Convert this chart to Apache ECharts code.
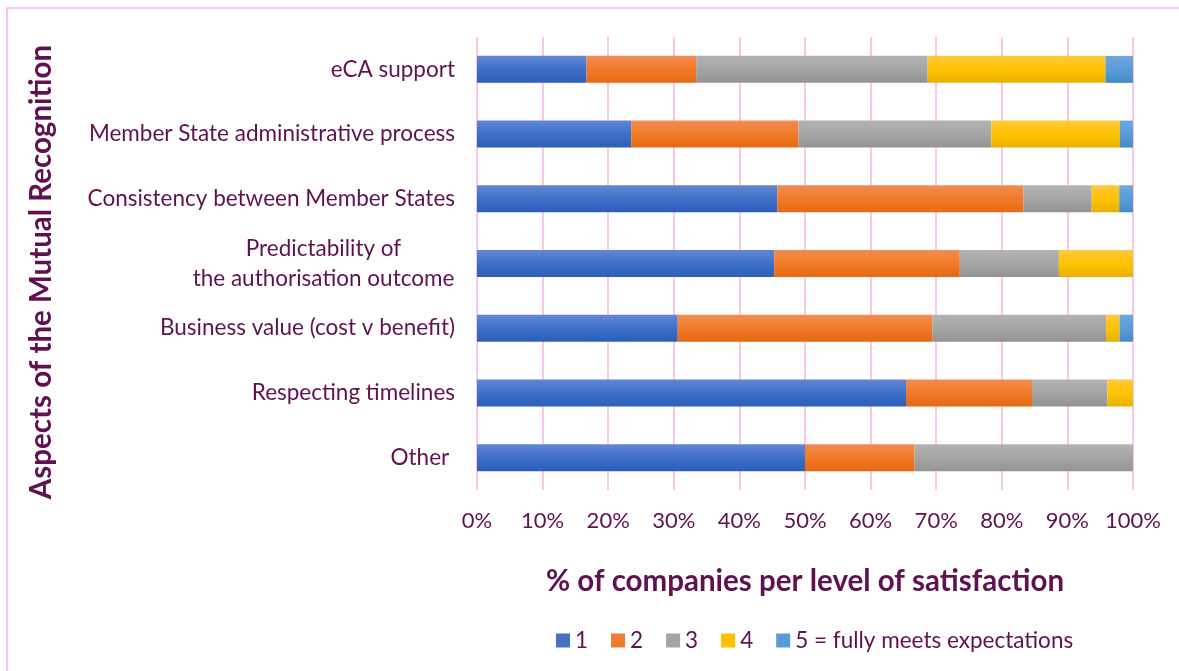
<!DOCTYPE html>
<html>
<head>
<meta charset="utf-8">
<script src="https://cdn.jsdelivr.net/npm/echarts@6/dist/echarts.min.js"></script>
<style>html,body{margin:0;padding:0;background:#fff;}#c{width:1179px;height:671px;}</style>
</head>
<body>
<div id="c"></div>
<script>
const categories = [
  'eCA support',
  'Member State administrative process',
  'Consistency between Member States',
  'Predictability of\nthe authorisation outcome',
  'Business value (cost v benefit)',
  'Respecting timelines',
  'Other '
];
const seriesNames = ['1', '2', '3', '4', '5 = fully meets expectations'];
const level1 = [16.7, 23.5, 45.8, 45.3, 30.6, 65.4, 50.0];
const level2 = [16.7, 25.5, 37.5, 28.3, 38.8, 19.2, 16.7];
const level3 = [35.3, 29.4, 10.4, 15.1, 26.5, 11.5, 33.3];
const level4 = [27.1, 19.6, 4.2, 11.3, 2.05, 3.9, 0];
const level5 = [4.2, 2.0, 2.1, 0, 2.05, 0, 0];
const xTicks = [0, 10, 20, 30, 40, 50, 60, 70, 80, 90, 100];

const textColor = '#5f1150';
const fontFam = 'Lato, "Open Sans", sans-serif';
function grad(top, bottom) {
  return new echarts.graphic.LinearGradient(0, 0, 0, 1, [
    {offset: 0, color: top}, {offset: 0.5, color: bottom[0]}, {offset: 1, color: bottom[1]}
  ]);
}
const colorsSolid = ['#4472C4', '#ED7D31', '#A5A5A5', '#FFC000', '#5B9BD5'];
const fills = [
  grad('#6388d4', ['#3e6fc8', '#2d5fb9']),
  grad('#f08d55', ['#f27a27', '#e56815']),
  grad('#b3b3b3', ['#a5a5a5', '#939393']),
  grad('#ffc83e', ['#ffc300', '#e6b100']),
  grad('#6ea8de', ['#5a9bd8', '#438bcb'])
];
const data = [level1, level2, level3, level4, level5];

const chart = echarts.init(document.getElementById('c'), null, {renderer: 'canvas'});
chart.setOption({
  animation: false,
  textStyle: {fontFamily: fontFam},
  grid: {left: 477, right: 46, top: 37, bottom: 181, containLabel: false},
  graphic: [
    {type: 'rect', shape: {x: 7, y: 8, width: 1200, height: 700}, style: {fill: 'none', stroke: '#f9c6ec', lineWidth: 2}, silent: true},
    {type: 'text', x: 41, y: 272, rotation: Math.PI / 2,
     style: {text: 'Aspects of the Mutual Recognition', align: 'center', verticalAlign: 'middle',
             fill: textColor, font: 'bold 29.5px ' + fontFam}}
  ],
  legend: {
    data: seriesNames.map((n, i) => ({name: n, icon: 'rect', itemStyle: {color: colorsSolid[i]}})),
    left: 551, top: 624, itemWidth: 14, itemHeight: 14, itemGap: 23,
    textStyle: {color: textColor, fontSize: 22.5, fontFamily: fontFam}
  },
  xAxis: {
    type: 'value', min: 0, max: 100, interval: 10,
    axisLabel: {formatter: v => xTicks.includes(v) ? v + '%' : '', color: textColor, fontSize: 22, margin: 20},
    axisLine: {show: false}, axisTick: {show: false},
    splitLine: {show: true, lineStyle: {color: '#f9c6ec', width: 2}},
    name: '% of companies per level of satisfaction', nameLocation: 'middle', nameGap: 76,
    nameTextStyle: {color: textColor, fontSize: 29.5, fontWeight: 'bold', fontFamily: fontFam}
  },
  yAxis: {
    type: 'category', data: categories, inverse: true,
    axisLine: {show: false}, axisTick: {show: false},
    axisLabel: {
      color: textColor, fontSize: 22.5, margin: 22,
      formatter: function (v) {
        if (v.indexOf('\n') >= 0) {
          return v.split('\n').map(s => '{c|' + s + '}').join('\n');
        }
        return v;
      },
      rich: {c: {width: 263, align: 'center', color: textColor, fontSize: 22.5, fontFamily: fontFam, lineHeight: 30}}
    }
  },
  series: data.map((d, i) => ({
    name: seriesNames[i], type: 'bar', stack: 'total', barWidth: 27,
    itemStyle: {color: fills[i]},
    data: d
  }))
});
</script>
</body>
</html>
